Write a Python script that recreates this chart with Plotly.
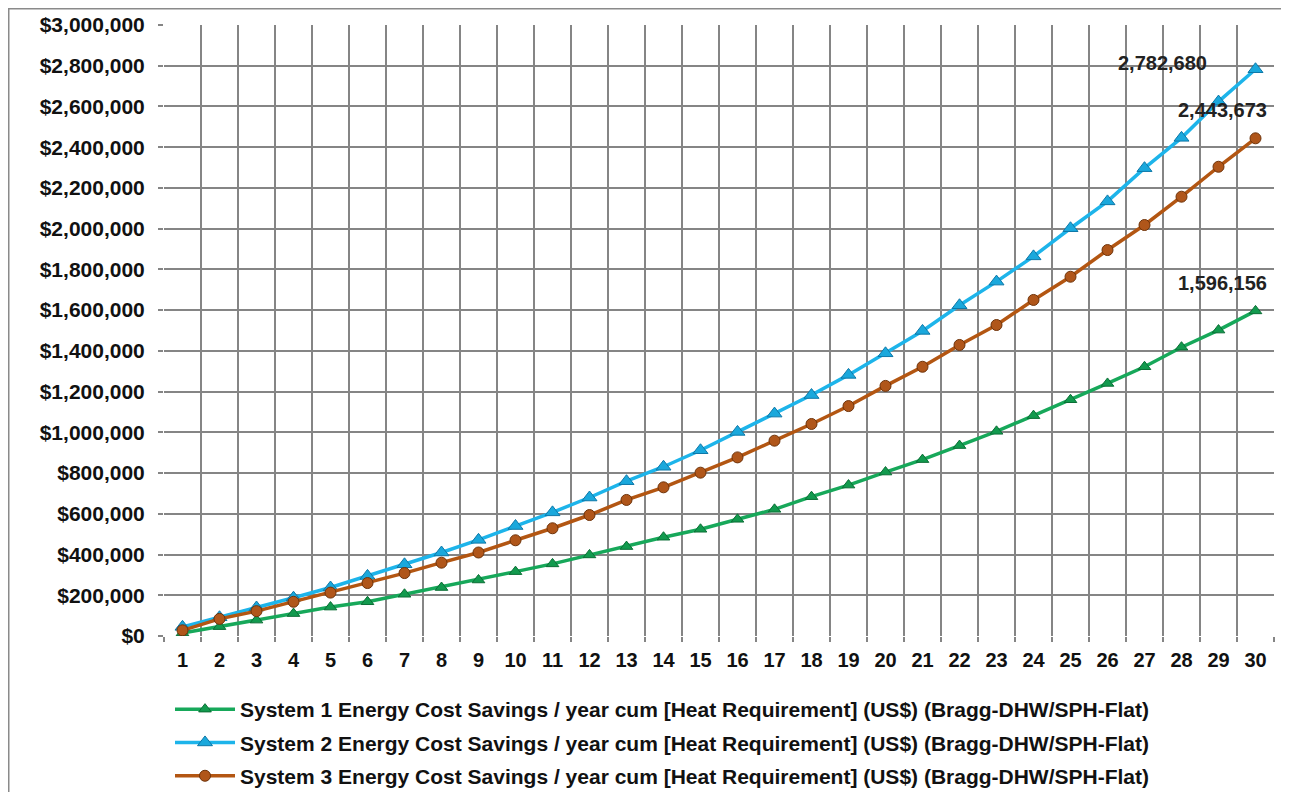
import plotly.graph_objects as go

years = [str(i) for i in range(1, 31)]

system1 = [15000, 46000, 78000, 110000, 142000, 168000, 205000, 238000, 275000, 316000,
           354000, 398000, 439000, 485000, 524000, 573000, 622000, 684000, 741000, 805000,
           866000, 935000, 1005000, 1082000, 1160000, 1240000, 1322000, 1418000, 1502000, 1596156]
system2 = [45000, 92000, 140000, 188000, 238000, 295000, 352000, 410000, 472000, 540000,
           607000, 680000, 760000, 831000, 912000, 1002000, 1092000, 1183000, 1282000, 1388000,
           1498000, 1624000, 1740000, 1864000, 2002000, 2134000, 2297000, 2446000, 2624000, 2782680]
system3 = [28000, 84000, 122000, 168000, 213000, 260000, 309000, 360000, 410000, 470000,
           529000, 594000, 668000, 730000, 802000, 877000, 959000, 1041000, 1129000, 1228000,
           1322000, 1429000, 1527000, 1650000, 1764000, 1895000, 2018000, 2157000, 2304000, 2443673]

names = [
    "System 1 Energy Cost Savings / year cum [Heat Requirement] (US$) (Bragg-DHW/SPH-Flat)",
    "System 2 Energy Cost Savings / year cum [Heat Requirement] (US$) (Bragg-DHW/SPH-Flat)",
    "System 3 Energy Cost Savings / year cum [Heat Requirement] (US$) (Bragg-DHW/SPH-Flat)",
]
y_ticks = list(range(0, 3000001, 200000))
y_ticktext = [f"${v:,}" for v in y_ticks]

FONT = "Liberation Sans, Arial, sans-serif"

# figure coordinates (page has an 8px body margin)
W, H = 1281, 784
PL, PR, PT, PB = 156, 1266, 17, 628
PW, PH = PR - PL, PB - PT

fig = go.Figure()
fig.add_trace(go.Scatter(
    x=years, y=system1, name=names[0], mode="lines+markers", legendgroup="g1",
    line=dict(color="#17a85a", width=3.5),
    marker=dict(symbol="triangle-up", size=11, color="#129a4e",
                line=dict(color="#0b6e35", width=1)),
))
fig.add_trace(go.Scatter(
    x=years, y=system2, name=names[1], mode="lines+markers", legendgroup="g2",
    line=dict(color="#1db4ea", width=3.5),
    marker=dict(symbol="triangle-up", size=13, color="#1aa8dc",
                line=dict(color="#0e78a8", width=1)),
))
fig.add_trace(go.Scatter(
    x=years, y=system3, name=names[2], mode="lines+markers", legendgroup="g3",
    line=dict(color="#b35612", width=3.5),
    marker=dict(symbol="circle", size=11, color="#b0561a",
                line=dict(color="#6e330a", width=1)),
))

last = len(years) - 1
label_specs = [(system2, -93, 6), (system3, -33, 28), (system1, -33, 28)]
for series, xs, ys in label_specs:
    fig.add_annotation(
        x=last, y=series[-1], text=f"{series[-1]:,}", showarrow=False,
        xshift=xs, yshift=ys, font=dict(family=FONT, size=20, color="#222222", weight="bold"),
    )

# outer chart border
fig.add_shape(type="rect", xref="paper", yref="paper",
              x0=(0.75 - PL) / PW, x1=(1275 - PL) / PW,
              y0=(PB - 830) / PH, y1=(PB - 0.75) / PH,
              line=dict(color="#8a8a8a", width=1.5), layer="below")

fig.update_layout(
    width=W, height=H,
    margin=dict(l=PL, r=W - PR, t=PT, b=H - PB, autoexpand=False),
    paper_bgcolor="white", plot_bgcolor="white",
    font=dict(family=FONT, size=20, color="#111111", weight="bold"),
    showlegend=True,
    legend=dict(
        x=6 / PW, y=(PB - 681) / PH, xanchor="left", yanchor="top",
        orientation="v", itemwidth=60, tracegroupgap=3,
        font=dict(family=FONT, size=21, color="#111111", weight="bold"),
        bgcolor="rgba(0,0,0,0)",
    ),
    xaxis=dict(
        type="category", tickson="boundaries", showgrid=True,
        gridcolor="#858585", gridwidth=1.5,
        ticks="outside", ticklen=5, tickcolor="#858585", tickwidth=1.5,
        showline=False, zeroline=False,
        tickfont=dict(family=FONT, size=20, color="#111111", weight="bold"),
        ticklabelstandoff=10,
        range=[-0.5, 29.5],
    ),
    yaxis=dict(
        range=[0, 3000000], tickvals=y_ticks, ticktext=y_ticktext,
        showgrid=True, gridcolor="#858585", gridwidth=1.5,
        ticks="outside", ticklen=5, tickcolor="#858585", tickwidth=1.5,
        zeroline=False, showline=False,
        tickfont=dict(family=FONT, size=21, color="#111111", weight="bold"),
        ticklabelstandoff=9,
    ),
)

fig.write_html("out.html")
